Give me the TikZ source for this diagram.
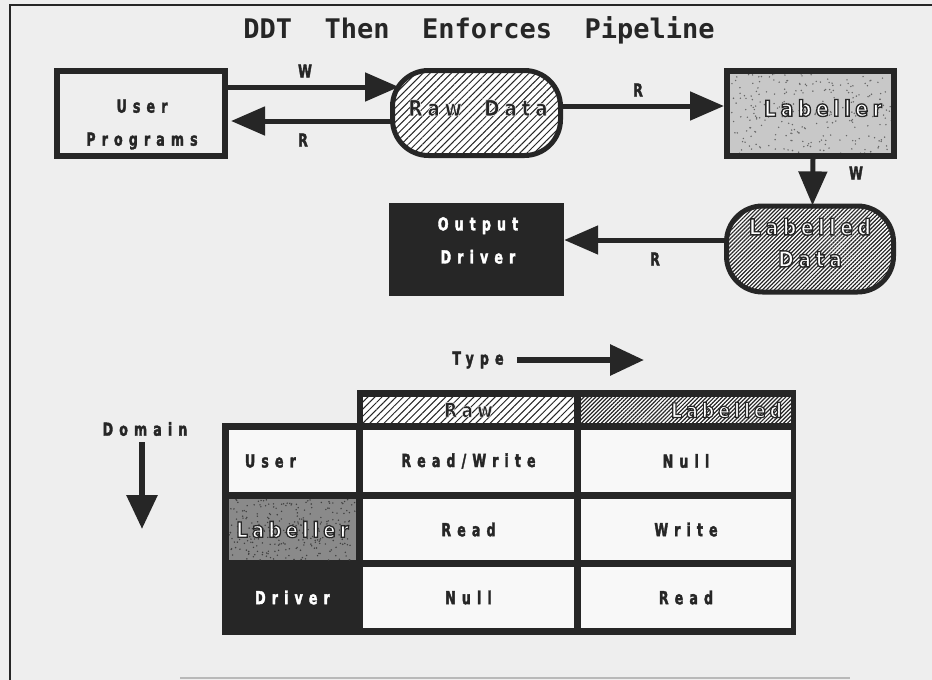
\documentclass[tikz,border=0pt]{standalone}
\usepackage{fontspec}
\usetikzlibrary{arrows.meta,patterns.meta}
\newfontfamily\labfont{DejaVu Sans Bold}[FakeStretch=0.7,LetterSpace=34,FakeBold=2]
\newfontfamily\olfont{DejaVu Sans Bold}[FakeStretch=0.85,LetterSpace=21,FakeBold=6]
\newfontfamily\odfont{DejaVu Sans Bold}[FakeStretch=0.85,LetterSpace=21,FakeBold=2.5]
\newfontfamily\ttlfont{DejaVu Sans Mono Bold}
\definecolor{bg}{RGB}{238,238,238}
\definecolor{dk}{RGB}{38,38,38}
\definecolor{cellw}{RGB}{248,248,248}
\definecolor{lgr}{RGB}{200,200,200}
\definecolor{mgr}{RGB}{138,138,138}
\newcommand\olw[1]{{\olfont\color{white}\special{pdf:literal direct 0.15 0.15 0.15 RG}#1}}
\newcommand\old[1]{{\odfont\color{dk}\special{pdf:literal direct 0.97 0.97 0.97 RG}#1}}
\begin{document}
\begin{tikzpicture}[x=1pt,y=-1pt,
  lab/.style={font=\labfont\fontsize{18pt}{33pt}\selectfont, text=dk, inner sep=0pt, align=center},
  ol/.style={font=\fontsize{22pt}{32pt}\selectfont, inner sep=0pt, align=center},
  box/.style={draw=dk, line width=6pt, inner sep=0pt},
  arr/.style={draw=dk, line width=5pt, -{Triangle[length=34pt,width=28pt]}},
  arrb/.style={draw=dk, line width=6pt, -{Triangle[length=34pt,width=30pt]}},
  rawhatch/.style={preaction={fill=white}, pattern={Lines[angle=45,distance=5pt,line width=1pt]}, pattern color=dk},
  labhatch/.style={preaction={fill=white}, pattern={Lines[angle=45,distance=2.8pt,line width=1.2pt]}, pattern color=dk},
  speck/.style n args={4}{path picture={
     \foreach \i in {1,...,#4}{\fill[#1] ([shift={({rnd*#2},{rnd*#3})}]path picture bounding box.north west) circle (0.8);}}},
  cell/.style={fill=cellw, inner sep=0pt, font=\labfont\fontsize{18pt}{20pt}\selectfont, text=dk},
  c1/.style={minimum width=127pt}, c2/.style={minimum width=211pt}, c3/.style={minimum width=210pt}]
\pgfmathsetseed{7}
\fill[bg] (0,0) rectangle (932,680);
\useasboundingbox (0,0) rectangle (932,680);
\draw[dk, line width=2.2pt] (932,5) -- (10,5) -- (10,680);
\draw[gray!55, line width=2pt] (180,678) -- (850,678);

% title
\node[font=\ttlfont\fontsize{27pt}{30pt}\selectfont, text=dk, anchor=base, inner sep=0pt] (title) at (479,38) {DDT\ \ Then\ \ Enforces\ \ Pipeline};

% pipeline
\node[box, minimum width=168pt, minimum height=85pt] (user) at (141,113) {};
\node[lab] (usertxt) at (142,124.5) {User\\Programs};

\node[box, line width=5pt, rounded corners=36pt, minimum width=168pt, minimum height=85pt, rawhatch] (raw) at (476.5,113) {};
\node[ol] (rawtxt) at (478,108) {\old{Raw\ \ Data}};

\node[box, fill=lgr, speck={gray!30!black!70}{173}{91}{300}, minimum width=167pt, minimum height=85pt] (labeller) at (810.5,113) {};
\node[ol] (labtxt) at (823,108) {\olw{Labeller}};

\node[box, line width=5pt, rounded corners=36pt, minimum width=167pt, minimum height=86pt, labhatch] (ldata) at (810,249) {};
\node[ol] (ldtxt) at (810,242.7) {\olw{Labelled}\\\olw{Data}};

\node[fill=dk, minimum width=175pt, minimum height=93pt, inner sep=0pt] (output) at (476.5,249) {};
\node[lab, text=white] (outtxt) at (478,240.4) {Output\\Driver};

\draw[arr] ([yshift=26pt]user.east) -- ([xshift=7pt,yshift=26pt]raw.west);
\draw[arr] ([yshift=-8pt]raw.west) -- ([xshift=3pt,yshift=-8pt]user.east);
\draw[arr] ([yshift=7pt]raw.east) -- ([yshift=7pt]labeller.west);
\draw[arr] ([xshift=2.5pt]labeller.south) -- ([xshift=2.5pt]ldata.north);
\draw[arr] ([yshift=9pt]ldata.west) -- ([yshift=9pt]output.east);

\node[lab] (lw1) at (305,71) {W};
\node[lab] (lr1) at (303,140) {R};
\node[lab] (lr2) at (638,90) {R};
\node[lab] (lw2) at (856,173) {W};
\node[lab] (lr3) at (655,259) {R};

% axes
\node[lab] (type) at (478,360) {Type};
\coordinate (typetip) at (644,360);
\draw[arrb] ([xshift=13pt]type.east) -- (typetip);
\node[lab] (domain) at (145,429) {Domain};
\coordinate (domtip) at (142,529);
\draw[arrb] ([xshift=-3pt,yshift=-6pt]domain.south) -- (domtip);

% table
\fill[dk] (222,423) rectangle (796,635);
\fill[dk] (357,390) rectangle (796,430);
\node[rawhatch, inner sep=0pt, minimum width=211pt, minimum height=26pt, font=\fontsize{20pt}{24pt}\selectfont, text width=180pt, align=center] (hraw) at (468.5,410) {\old{Raw}\hspace*{16pt}};
\node[labhatch, inner sep=0pt, minimum width=210pt, minimum height=26pt, font=\fontsize{20pt}{24pt}\selectfont, text width=192pt, align=right] (hlab) at (686,410) {\olw{Labelled}};

\node[cell, c1, minimum height=62pt, text width=95pt, align=left] (r1c1) at (292.5,461) {User};
\node[cell, c2, minimum height=62pt] (r1c2) at (468.5,461) {Read/Write};
\node[cell, c3, minimum height=62pt] (r1c3) at (686,461) {Null};

\node[cell, c1, minimum height=61pt, fill=mgr, speck={black!75}{127}{61}{260}, font=\fontsize{21pt}{24pt}\selectfont] (r2c1) at (292.5,529.5) {\olw{Labeller}};
\node[cell, c2, minimum height=61pt] (r2c2) at (468.5,529.5) {Read};
\node[cell, c3, minimum height=61pt] (r2c3) at (686,529.5) {Write};

\node[cell, c1, minimum height=61pt, fill=none, text=white] (r3c1) at (292.5,597.5) {Driver};
\node[cell, c2, minimum height=61pt] (r3c2) at (468.5,597.5) {Null};
\node[cell, c3, minimum height=61pt] (r3c3) at (686,597.5) {Read};
\end{tikzpicture}
\end{document}
